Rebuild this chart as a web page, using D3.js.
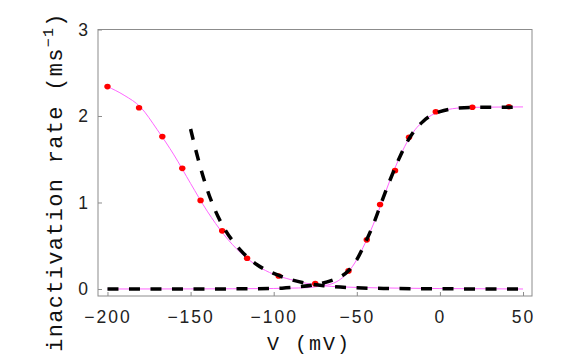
<!DOCTYPE html>
<html>
<head>
<meta charset="utf-8">
<script src="https://d3js.org/d3.v7.min.js"></script>
<style>
  body { margin: 0; background: #fff; }
  svg { display: block; }
</style>
</head>
<body>
<svg id="chart" width="581" height="359"></svg>
<script>
// measured points (red dots)
const pointV    = [-200, -181, -167, -155, -144, -131, -116, -97, -75, -55, -44, -36, -27, -18.6, -2.5, 19.5, 41.5];
const pointRate = [2.34, 2.095, 1.762, 1.395, 1.024, 0.672, 0.356, 0.151, 0.062, 0.209, 0.568, 0.977, 1.368, 1.754, 2.049, 2.102, 2.107];

// thin magenta fits
const fitAV    = [-200, -190, -180, -170, -160, -150, -140, -130, -120, -110, -100, -90, -80, -75, -70, -60, -50, -25, 0, 50];
const fitARate = [2.34, 2.24, 2.10, 1.84, 1.55, 1.22, 0.90, 0.63, 0.42, 0.27, 0.17, 0.11, 0.065, 0.05, 0.037, 0.025, 0.018, 0.01, 0.005, 0.0];
const fitBV    = [-200, -150, -100, -90, -80, -75, -70, -65, -60, -55, -50, -45, -40, -35, -30, -25, -20, -15, -10, -5, 0, 10, 20, 50];
const fitBRate = [0.0, 0.001, 0.006, 0.01, 0.015, 0.025, 0.037, 0.06, 0.11, 0.2, 0.34, 0.53, 0.75, 1.0, 1.26, 1.49, 1.69, 1.84, 1.94, 2.01, 2.05, 2.09, 2.10, 2.105];

// dashed model curves
const modelDV    = [-150, -145, -140, -135, -130, -120, -110, -100, -90, -80, -70, -60, -50, -30, 0, 50];
const modelDRate = [1.85, 1.47, 1.15, 0.90, 0.71, 0.45, 0.28, 0.18, 0.11, 0.065, 0.038, 0.022, 0.013, 0.006, 0.002, 0.0];
const modelEV    = [-200, -150, -110, -95, -85, -75, -65, -60, -55, -50, -45, -40, -35, -30, -25, -20, -15, -10, -5, 0, 10, 20, 50];
const modelERate = [0.0, 0.0, 0.004, 0.01, 0.025, 0.05, 0.1, 0.14, 0.21, 0.34, 0.53, 0.75, 1.01, 1.26, 1.49, 1.69, 1.84, 1.94, 2.01, 2.05, 2.09, 2.10, 2.10];

const xTicks = [-200, -150, -100, -50, 0, 50];
const yTicks = [0, 1, 2, 3];

const svg = d3.select("#chart");
const plotLeft = 98, plotRight = 532, plotTop = 29.5, plotBottom = 296;

const x = d3.scaleLinear().domain([-205.7, 55.4]).range([plotLeft, plotRight]);
const y = d3.scaleLinear().domain([-0.081, 3]).range([plotBottom, plotTop]);

const zip = (xs, ys) => xs.map((v, i) => [v, ys[i]]);
const line = d3.line().x(d => x(d[0])).y(d => y(d[1])).curve(d3.curveMonotoneX);

// frame
svg.append("rect")
  .attr("x", plotLeft).attr("y", plotTop)
  .attr("width", plotRight - plotLeft).attr("height", plotBottom - plotTop)
  .attr("fill", "none").attr("stroke", "#8c8c8c").attr("stroke-width", 1);

const fmt = d => (d < 0 ? "\u2212" + Math.abs(d) : "" + d);

const xAxis = svg.append("g")
  .attr("transform", `translate(0,${plotBottom})`)
  .call(d3.axisBottom(x).tickValues(xTicks).tickFormat(fmt).tickSize(-4).tickPadding(15));
const yAxis = svg.append("g")
  .attr("transform", `translate(${plotLeft},0)`)
  .call(d3.axisLeft(y).tickValues(yTicks).tickFormat(fmt).tickSize(-4).tickPadding(10));

[xAxis, yAxis].forEach(g => {
  g.select(".domain").remove();
  g.selectAll(".tick line").attr("stroke", "#8c8c8c");
  g.selectAll(".tick text")
    .attr("fill", "#222")
    .style("font-family", "'Liberation Sans', Arial, sans-serif")
    .style("font-size", "17.5px");
});
xAxis.selectAll(".tick text").style("letter-spacing", "2px");

// magenta fits
[zip(fitAV, fitARate), zip(fitBV, fitBRate)].forEach(d => {
  svg.append("path").datum(d)
    .attr("d", line)
    .attr("fill", "none")
    .attr("stroke", "#ff66ff")
    .attr("stroke-width", 1);
});

// red points
svg.selectAll(".pt")
  .data(zip(pointV, pointRate))
  .enter().append("ellipse")
  .attr("class", "pt")
  .attr("cx", d => x(d[0]))
  .attr("cy", d => y(d[1]))
  .attr("rx", 3.2)
  .attr("ry", 2.8)
  .attr("fill", "#ff0000");

// dashed curves
[zip(modelDV, modelDRate), zip(modelEV, modelERate)].forEach(d => {
  svg.append("path").datum(d)
    .attr("d", line)
    .attr("fill", "none")
    .attr("stroke", "#000")
    .attr("stroke-width", 3.5)
    .attr("stroke-dasharray", "11 10.5");
});

// axis labels
svg.append("text")
  .attr("x", 267).attr("y", 350)
  .style("font-family", "'Courier New', 'Liberation Mono', monospace")
  .style("font-size", "20px")
  .style("letter-spacing", "2px")
  .attr("fill", "#111")
  .text("V (mV)");

const yl = svg.append("text")
  .attr("transform", "translate(62,182) rotate(-90)")
  .attr("text-anchor", "middle")
  .style("font-family", "'Courier New', 'Liberation Mono', monospace")
  .style("font-size", "22px")
  .style("letter-spacing", "1.3px")
  .attr("fill", "#111");
yl.append("tspan").text("inactivation rate (ms");
yl.append("tspan").attr("dy", -9).style("font-size", "15px").text("\u22121");
yl.append("tspan").attr("dy", 9).text(")");
</script>
</body>
</html>
